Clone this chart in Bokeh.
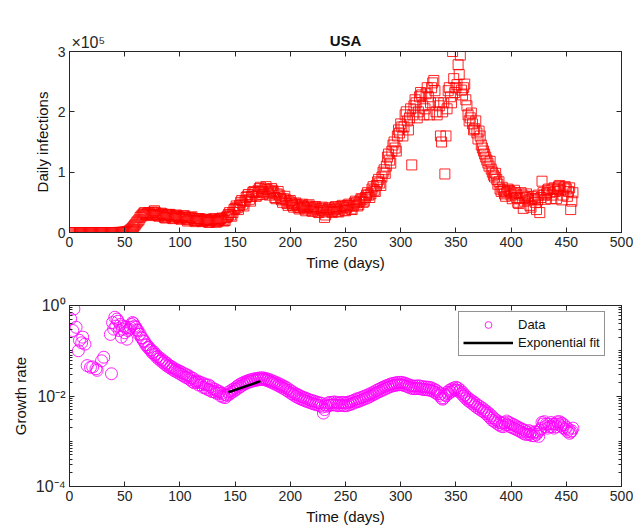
import numpy as np
from bokeh.plotting import figure
from bokeh.layouts import column
from bokeh.models import (LinearAxis, LogAxis, FixedTicker, Legend,
                          LegendItem, Range1d)
from bokeh.embed import file_html
from bokeh.resources import INLINE

# ---------------- data ----------------
# daily infections, thousands, day 0..456
daily_k = [
    0, 0, 0, 0, 0, 0, 0, 0, 0, 0,
    0, 0, 0, 0, 0, 0, 0, 0, 0, 0,
    0, 0, 0, 0, 0, 0, 0, 0, 0, 0,
    0, 0, 0, 0, 0, 0, 0, 0, 0, 0,
    0, 0, 0, 0, 0.1, 0.1, 0.1, 0.2, 0.3, 0.4,
    0.5, 0.8, 1.2, 1.8, 2.6, 4, 5.5, 7.5, 9.5, 12,
    14, 17, 19, 21, 25, 27, 29, 31, 33, 30,
    29, 32, 33, 31, 28, 30, 34, 36, 33, 30,
    28, 27, 30, 32, 31, 27, 25, 24, 28, 30,
    29, 30, 27, 24, 23, 26, 28, 29, 27, 25,
    23, 22, 25, 27, 28, 25, 22, 19, 21, 24,
    25, 26, 23, 20, 18, 20, 23, 22, 23, 20,
    18, 19, 21, 22, 21, 19, 17, 17, 20, 21,
    22, 23, 19, 17, 18, 20, 22, 23, 24, 21,
    19, 20, 25, 27, 30, 33, 29, 27, 33, 38,
    40, 44, 41, 38, 45, 50, 53, 47, 44, 52,
    58, 60, 63, 55, 52, 60, 66, 68, 66, 60,
    62, 70, 73, 75, 68, 63, 66, 72, 76, 71,
    65, 62, 68, 73, 70, 66, 58, 56, 64, 68,
    62, 57, 54, 50, 56, 60, 54, 48, 45, 51,
    53, 49, 45, 42, 47, 49, 46, 42, 39, 41,
    45, 47, 43, 39, 36, 41, 44, 46, 42, 37,
    35, 39, 42, 43, 39, 34, 33, 37, 40, 42,
    36, 25, 29, 34, 38, 41, 39, 35, 33, 37,
    41, 43, 39, 35, 34, 39, 43, 45, 42, 37,
    36, 41, 45, 47, 44, 39, 38, 44, 49, 52,
    49, 44, 46, 52, 56, 55, 50, 52, 58, 62,
    66, 62, 58, 64, 72, 76, 70, 68, 78, 84,
    88, 82, 78, 92, 100, 104, 98, 110, 125, 130,
    120, 115, 135, 145, 150, 140, 135, 160, 170, 165,
    180, 175, 160, 175, 195, 200, 185, 170, 190, 205,
    112, 195, 210, 220, 215, 190, 200, 225, 232, 228,
    210, 195, 205, 230, 240, 225, 195, 215, 240, 248,
    252, 235, 200, 195, 215, 210, 160, 150, 200, 215,
    97, 160, 205, 235, 240, 225, 215, 300, 255, 232,
    240, 245, 278, 262, 294, 236, 228, 240, 246, 220,
    210, 195, 185, 190, 198, 180, 170, 172, 185, 165,
    155, 168, 160, 145, 140, 135, 130, 125, 120, 115,
    110, 118, 105, 100, 95, 92, 98, 88, 80, 84,
    72, 68, 75, 70, 64, 60, 66, 72, 70, 68,
    62, 56, 64, 70, 66, 58, 50, 48, 56, 66,
    62, 40, 52, 58, 64, 60, 54, 45, 42, 56,
    60, 56, 50, 38, 54, 62, 33, 58, 85, 66,
    62, 55, 64, 70, 72, 66, 56, 62, 72, 74,
    68, 56, 72, 76, 78, 70, 54, 62, 74, 76,
    72, 60, 68, 74, 38, 52, 66,
]

# growth rate, units of 1e-3, day 0..456 (None = no point)
growth_milli = [
    None, 510, None, 280, 840, None, 330, None, 100, 170,
    None, 150, 200, None, 140, None, 47, None, None, 43,
    None, 44, None, None, 40, 37, None, None, None, 60,
    None, 72, None, None, None, None, None, 230, 31, 420,
    300, 550, 350, 500, 450, 280, 380, 200, 300, 350,
    250, 330, 180, 280, 300, 330, 380, 420, 400, 350,
    330, 290, 280, 230, 235, 195, 190, 165, 160, 135,
    135, 118, 120, 104, 103, 90, 96, 82, 84, 72,
    75, 65, 69, 59, 63, 54, 58, 49, 53, 45,
    48, 42, 45, 39, 42, 36, 39, 34, 37, 32,
    35, 30, 33, 28, 31, 26, 29.5, 25, 28, 23,
    25.5, 21, 24.5, 19.5, 21.5, 20, 21.5, 17.5, 20, 17.5,
    19.5, 15.5, 18.5, 15, 17.5, 14, 17.5, 13.5, 16, 12.5,
    14.5, 12.5, 14, 11.5, 13, 11.5, 12.5, 10, 11.5, 9.5,
    10.8, 9.2, 10.5, 10.3, 12.2, 11, 13, 12, 14, 12.8,
    15, 14, 16.5, 15, 17.8, 16.2, 19, 17.5, 20, 18.5,
    21, 19.5, 22, 20.5, 22.8, 21, 23.5, 21.8, 24, 22.3,
    24.5, 22.8, 25, 23.2, 25.2, 23.2, 25, 22.8, 24.2, 22,
    23.5, 21, 22.5, 20, 21.5, 19, 20.5, 18, 19.5, 17,
    18.5, 16, 17.5, 15, 16.5, 14.2, 15.5, 13.2, 14.5, 12.2,
    13.3, 11.3, 12.4, 10.5, 11.5, 9.8, 10.9, 9.2, 10.3, 8.7,
    9.7, 8.3, 9.3, 7.9, 8.9, 7.6, 8.5, 7.3, 8.1, 7.0,
    7.9, 6.7, 7.6, 6.5, 7.3, 6.3, 7.1, 6.1, 6.9, 5.7,
    4.2, 5.0, 6.4, 5.9, 7.0, 6.2, 7.2, 6.3, 7.2, 6.4,
    7.4, 6.3, 7.2, 6.1, 7.0, 6.2, 7.2, 6.3, 7.2, 6.1,
    7.0, 6.1, 7.2, 6.4, 7.5, 6.6, 7.7, 6.9, 8.1, 7.3,
    8.6, 7.5, 8.8, 7.8, 9.2, 8.2, 9.6, 8.6, 10.0, 9.0,
    10.5, 9.4, 11.1, 10.0, 11.7, 10.6, 12.3, 11.2, 13.2, 12.0,
    14.0, 12.6, 14.8, 13.3, 15.6, 14.0, 16.4, 14.8, 17.2, 15.6,
    18.0, 16.3, 18.7, 16.8, 19.2, 17.2, 19.6, 17.6, 20.0, 17.7,
    20.0, 17.7, 19.7, 17.2, 19.1, 16.5, 18.2, 15.8, 17.4, 15.0,
    16.8, 14.6, 16.5, 14.5, 16.6, 14.7, 16.8, 14.6, 16.4, 14.2,
    16.0, 13.9, 15.8, 13.8, 15.7, 13.6, 15.5, 13.3, 15.0, 12.8,
    14.2, 12.0, 13.4, 11.2, 12.3, 10.3, 11.3, 9.0, 8.5, 9.0,
    10.8, 10.1, 12.1, 11.2, 13.3, 12.1, 14.2, 12.9, 15.0, 13.6,
    15.6, 13.5, 14.9, 12.5, 13.5, 11.2, 12.1, 9.9, 10.6, 8.8,
    9.5, 7.9, 8.6, 7.3, 8.0, 6.7, 7.4, 6.1, 6.8, 5.6,
    6.2, 5.2, 5.8, 4.8, 5.4, 4.5, 4.9, 4.1, 4.5, 3.7,
    4.1, 3.3, 3.7, 2.9, 3.3, 2.7, 3.0, 2.5, 2.8, 2.3,
    2.6, 2.15, 2.5, 2.1, 2.6, 2.3, 2.8, 2.3, 2.6, 2.1,
    2.45, 2.0, 2.35, 1.9, 2.2, 1.8, 2.05, 1.7, 1.95, 1.6,
    1.85, 1.5, 1.75, 1.42, 1.62, 1.42, 1.72, 1.42, 1.62, 1.33,
    1.52, 1.32, 1.62, 1.42, 1.58, 1.28, 1.75, 1.9, 2.6, 2.4,
    2.7, 2.1, 2.4, 1.95, 2.4, 2.1, 2.6, 2.1, 2.4, 1.95,
    2.4, 2.1, 2.7, 2.4, 2.7, 2.2, 2.5, 2.0, 2.3, 1.85,
    2.05, 1.65, 1.85, 1.5, 1.6, 1.7, 1.95,
]

fit_days = [144, 173]
fit_rate = [0.0121, 0.0213]

x_ticks = [0, 50, 100, 150, 200, 250, 300, 350, 400, 450, 500]
top_y_ticks = [0, 100000, 200000, 300000]
top_y_labels = ["0", "1", "2", "3"]
exp_label_pos = 17          # position of the "x10^5" multiplier text on the top axis
exp_label = "\u00d710\u2075"
log_ticks = [1e-4, 1e-2, 1.0]
log_labels = ["10\u207b\u2074", "10\u207b\u00b2", "10\u2070"]
log_minor = [k * 10.0 ** e for e in (-4, -3, -2, -1) for k in range(1, 10)][1:]

days = np.arange(len(daily_k))
daily = np.array(daily_k, dtype=float) * 1000.0
gdays = np.arange(len(growth_milli))
growth = np.array([np.nan if v is None else v for v in growth_milli], dtype=float) / 1000.0

FONT = "Liberation Sans"
AX = "#262626"


def style_axis(ax, minor=False):
    ax.axis_line_color = AX
    ax.axis_line_width = 1
    ax.major_tick_line_color = AX
    ax.major_tick_in = 5
    ax.major_tick_out = 0
    ax.minor_tick_line_color = AX if minor else None
    ax.minor_tick_in = 3 if minor else 0
    ax.minor_tick_out = 0
    ax.major_label_text_font = FONT
    ax.major_label_text_color = AX
    ax.major_label_text_font_size = "14px"
    ax.major_label_standoff = 4
    ax.axis_label_text_font = FONT
    ax.axis_label_text_font_size = "15px"
    ax.axis_label_text_font_style = "normal"
    ax.axis_label_text_color = "#111111"
    ax.axis_label_standoff = 4


def frame_axis(ax, ticks, minor=False):
    style_axis(ax, minor=minor)
    ax.major_label_overrides = {t: "" for t in ticks}
    ax.major_label_standoff = 0


# ---------------- top figure ----------------
p1 = figure(width=644, height=290, x_range=Range1d(0, 500), y_range=Range1d(0, 300000),
            output_backend="svg", toolbar_location=None,
            min_border_left=69, min_border_right=23, min_border_top=51, min_border_bottom=58)
p1.grid.visible = False
p1.outline_line_color = AX
p1.background_fill_color = "white"
p1.border_fill_color = "white"

p1.scatter(days, daily, marker="square", size=10, fill_color=None,
           line_color="#ff0000", line_width=1, line_alpha=0.85)

p1.xaxis.ticker = FixedTicker(ticks=x_ticks)
p1.yaxis.ticker = FixedTicker(ticks=top_y_ticks)
p1.yaxis.major_label_overrides = {t: l for t, l in zip(top_y_ticks, top_y_labels)}
p1.xaxis.axis_label = "Time (days)"
p1.yaxis.axis_label = "Daily infections"
style_axis(p1.xaxis[0])
style_axis(p1.yaxis[0])
ra1 = LinearAxis(ticker=FixedTicker(ticks=top_y_ticks))
frame_axis(ra1, top_y_ticks)
p1.add_layout(ra1, "right")

# top axis: frame ticks as minor ticks, one major label for the multiplier, axis label = title
ta1 = LinearAxis(ticker=FixedTicker(ticks=[exp_label_pos], minor_ticks=x_ticks))
style_axis(ta1)
ta1.major_tick_in = 0
ta1.minor_tick_line_color = AX
ta1.minor_tick_in = 5
ta1.minor_tick_out = 0
ta1.major_label_overrides = {exp_label_pos: exp_label}
ta1.major_label_text_font_size = "16px"
ta1.major_label_standoff = 1
ta1.axis_label = "USA"
ta1.axis_label_text_font_style = "bold"
ta1.axis_label_text_font_size = "15px"
ta1.axis_label_standoff = -18
p1.add_layout(ta1, "above")

# ---------------- bottom figure ----------------
p2 = figure(width=644, height=242, x_range=Range1d(0, 500), y_range=Range1d(1e-4, 1.0),
            y_axis_type="log", output_backend="svg", toolbar_location=None,
            min_border_left=69, min_border_right=23, min_border_top=15, min_border_bottom=46)
p2.grid.visible = False
p2.outline_line_color = AX
p2.background_fill_color = "white"
p2.border_fill_color = "white"

r_data = p2.scatter(gdays, growth, marker="circle", size=12, fill_color=None,
                    line_color="#ff00ff", line_width=1, line_alpha=0.85)
r_fit = p2.line(fit_days, fit_rate, line_color="black", line_width=2.5)

p2.xaxis.ticker = FixedTicker(ticks=x_ticks)
p2.yaxis.ticker = FixedTicker(ticks=log_ticks, minor_ticks=log_minor)
p2.yaxis.major_label_overrides = {t: l for t, l in zip(log_ticks, log_labels)}
p2.xaxis.axis_label = "Time (days)"
p2.yaxis.axis_label = "Growth rate"
style_axis(p2.xaxis[0])
style_axis(p2.yaxis[0], minor=True)
p2.yaxis.major_label_text_font_size = "16px"
ra2 = LogAxis(ticker=FixedTicker(ticks=log_ticks, minor_ticks=log_minor))
ta2 = LinearAxis(ticker=FixedTicker(ticks=x_ticks))
frame_axis(ra2, log_ticks, minor=True)
frame_axis(ta2, x_ticks)
p2.add_layout(ra2, "right")
p2.add_layout(ta2, "above")

legend = Legend(items=[LegendItem(label="Data", renderers=[r_data]),
                       LegendItem(label="Exponential fit", renderers=[r_fit])],
                location=(389, 130), orientation="vertical")
legend.label_text_font = FONT
legend.label_text_font_size = "13px"
legend.label_text_color = "#111111"
legend.glyph_width = 50
legend.glyph_height = 17
legend.label_height = 17
legend.label_standoff = 5
legend.spacing = 1
legend.padding = 4
legend.margin = 0
legend.border_line_color = AX
legend.border_line_width = 1
legend.background_fill_color = "white"
legend.background_fill_alpha = 1
p2.add_layout(legend)

layout = column(p1, p2, spacing=0)
open("out.html", "w").write(file_html(layout, INLINE))
